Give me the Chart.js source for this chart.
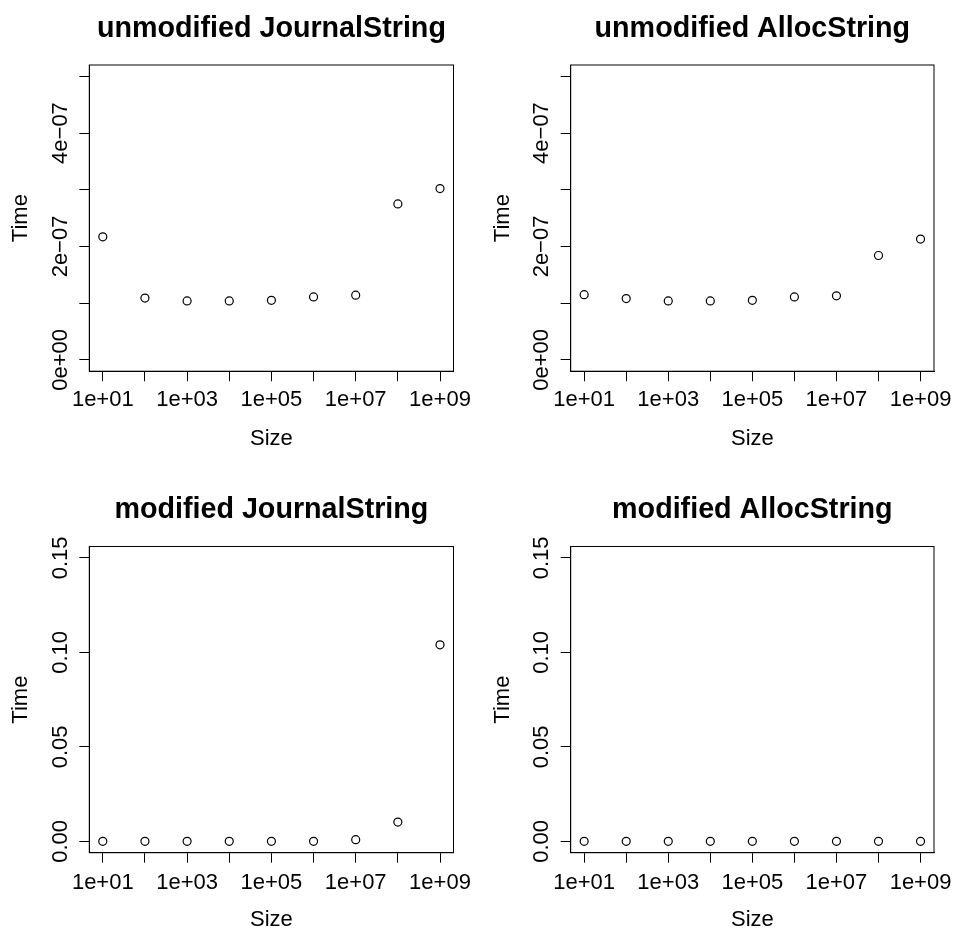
<!DOCTYPE html>
<html lang="en">
<head>
<meta charset="UTF-8">
<title>JournalString / AllocString timings</title>
<script src="https://cdn.jsdelivr.net/npm/chart.js@4"></script>
<style>
  html, body { margin: 0; padding: 0; background: #fff; }
  #grid { position: relative; width: 953px; height: 928px; }
  #grid canvas { position: absolute; }
</style>
</head>
<body>
<div id="grid">
  <canvas id="c1" width="476" height="464" style="left:0;top:0"></canvas>
  <canvas id="c2" width="477" height="464" style="left:476px;top:0"></canvas>
  <canvas id="c3" width="476" height="464" style="left:0;top:464px"></canvas>
  <canvas id="c4" width="477" height="464" style="left:476px;top:464px"></canvas>
</div>
<script>
const sizes = [1e1, 1e2, 1e3, 1e4, 1e5, 1e6, 1e7, 1e8, 1e9];
const unmodJournal = [2.17e-7, 1.09e-7, 1.04e-7, 1.04e-7, 1.05e-7, 1.11e-7, 1.14e-7, 2.75e-7, 3.02e-7];
const unmodAlloc = [1.15e-7, 1.08e-7, 1.04e-7, 1.04e-7, 1.05e-7, 1.11e-7, 1.13e-7, 1.84e-7, 2.13e-7];
const modJournal = [0, 0, 0, 0, 0, 0, 0.0009, 0.0102, 0.104];
const modAlloc = [0, 0, 0, 0, 0, 0, 0, 0, 0];

// axis ticks / labels (R only prints the labels that fit)
const xTicks = [1e1, 1e2, 1e3, 1e4, 1e5, 1e6, 1e7, 1e8, 1e9];
const xTickLabels = ['1e+01', '', '1e+03', '', '1e+05', '', '1e+07', '', '1e+09'];
const yTicksSmall = [0, 1e-7, 2e-7, 3e-7, 4e-7, 5e-7];
const yLabelsSmall = ['0e+00', '', '2e\u221207', '', '4e\u221207', ''];
const yTicksBig = [0, 0.05, 0.10, 0.15];
const yLabelsBig = ['0.00', '0.05', '0.10', '0.15'];

const FONT = "'Liberation Sans', Arial, Helvetica, sans-serif";
Chart.defaults.font.family = FONT;
Chart.defaults.color = '#000';

// box, tick labels, axis titles and main title, R base-graphics style
const rStyle = {
  id: 'rStyle',
  afterDraw(chart) {
    const o = chart.options.plugins.rStyle;
    const { ctx, chartArea: a } = chart;
    const xs = chart.scales.x, ys = chart.scales.y;
    const cx = (a.left + a.right) / 2;
    ctx.save();
    ctx.strokeStyle = '#000';
    ctx.lineWidth = 1;
    ctx.strokeRect(a.left, a.top, a.right - a.left, a.bottom - a.top);
    ctx.fillStyle = '#000';
    ctx.font = '22px ' + FONT;
    ctx.textAlign = 'center';
    ctx.textBaseline = 'alphabetic';
    xTicks.forEach((v, i) => {
      if (xTickLabels[i]) ctx.fillText(xTickLabels[i], xs.getPixelForValue(v), a.bottom + o.xLabOff);
    });
    o.yTicks.forEach((v, i) => {
      if (!o.yLabels[i]) return;
      ctx.save();
      ctx.translate(a.left - 22.5, ys.getPixelForValue(v));
      ctx.rotate(-Math.PI / 2);
      ctx.fillText(o.yLabels[i], 0, 0);
      ctx.restore();
    });
    ctx.save();
    ctx.translate(a.left - 62, (a.top + a.bottom) / 2);
    ctx.rotate(-Math.PI / 2);
    ctx.fillText('Time', 0, 0);
    ctx.restore();
    ctx.fillText('Size', cx, a.bottom + 73.5);
    ctx.font = 'bold 28.7px ' + FONT;
    ctx.fillText(o.title, cx, a.top - 28.5);
    ctx.restore();
  }
};

function makePanel(id, title, values, yTicks, yLabels, yMin, yMax, pad, xLabOff) {
  new Chart(document.getElementById(id), {
    type: 'scatter',
    data: {
      datasets: [{
        data: sizes.map((s, i) => ({ x: s, y: values[i] })),
        pointRadius: 4,
        pointBorderWidth: 1.2,
        pointBackgroundColor: 'rgba(0,0,0,0)',
        pointBorderColor: '#000'
      }]
    },
    options: {
      responsive: false,
      animation: false,
      events: [],
      layout: { padding: pad },
      plugins: {
        legend: { display: false },
        tooltip: { enabled: false },
        rStyle: { title: title, yTicks: yTicks, yLabels: yLabels, xLabOff: xLabOff }
      },
      scales: {
        x: {
          type: 'logarithmic',
          min: Math.pow(10, 0.68),
          max: Math.pow(10, 9.32),
          afterBuildTicks: s => { s.ticks = xTicks.map(v => ({ value: v })); },
          grid: { drawOnChartArea: false, drawTicks: true, tickLength: 10, color: '#000', lineWidth: 1 },
          border: { display: true, color: '#000', width: 1 },
          ticks: { display: false }
        },
        y: {
          min: yMin,
          max: yMax,
          afterBuildTicks: s => { s.ticks = yTicks.map(v => ({ value: v })); },
          grid: { drawOnChartArea: false, drawTicks: true, tickLength: 10, color: '#000', lineWidth: 1 },
          border: { display: true, color: '#000', width: 1 },
          ticks: { display: false }
        }
      }
    },
    plugins: [rStyle]
  });
}

makePanel('c1', 'unmodified JournalString', unmodJournal, yTicksSmall, yLabelsSmall, -2e-8, 5.2e-7,
  { left: 79.3, right: 22.5, top: 65, bottom: 82.8 }, 34.3);
makePanel('c2', 'unmodified AllocString', unmodAlloc, yTicksSmall, yLabelsSmall, -2e-8, 5.2e-7,
  { left: 84.7, right: 19, top: 65, bottom: 82.8 }, 34.3);
makePanel('c3', 'modified JournalString', modJournal, yTicksBig, yLabelsBig, -0.006, 0.156,
  { left: 79.3, right: 22.5, top: 82.5, bottom: 65.3 }, 36);
makePanel('c4', 'modified AllocString', modAlloc, yTicksBig, yLabelsBig, -0.006, 0.156,
  { left: 84.7, right: 19, top: 82.5, bottom: 65.3 }, 36);
</script>
</body>
</html>
